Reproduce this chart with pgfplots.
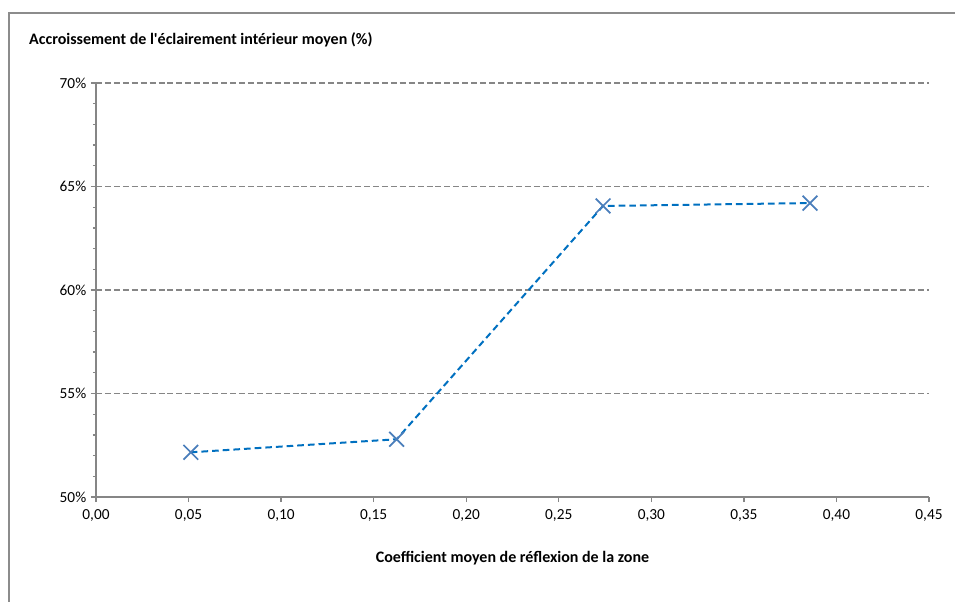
\documentclass[border=0pt]{standalone}
\usepackage{pgfplots}
\pgfplotsset{compat=1.18}
\usepackage{fontspec}
\setmainfont{Carlito}
\definecolor{axgray}{HTML}{868686}
\definecolor{framegray}{HTML}{8C8C8C}
\definecolor{lineblue}{HTML}{0070C0}
\definecolor{markblue}{HTML}{4A7EBB}

\begin{document}
\begin{tikzpicture}[x=0.75pt,y=0.75pt]
\useasboundingbox (0,0) rectangle (955,601);
% chart area border (cut at right and bottom)
\draw[framegray, line width=1.6pt] (9,-10) -- (9,588) -- (970,588);
\begin{axis}[
    at={(72pt,78pt)}, anchor=south west,
    scale only axis,
    width=624.75pt, height=310.5pt,
    xmin=0, xmax=0.45, ymin=50, ymax=70,
    xtick={0,0.05,...,0.451},
    ytick={50,55,...,70},
    minor y tick num=4,
    axis x line*=bottom, axis y line*=left,
    axis line style={axgray, line width=1pt, -},
    tick style={axgray, line width=1pt},
    tick align=outside,
    major tick length=3.8pt,
    minor tick length=2.4pt,
    ymajorgrids,
    major grid style={axgray, line width=0.9pt, dash pattern=on 4.5pt off 2.2pt},
    tick label style={font=\fontsize{11.5}{13}\selectfont, /pgf/number format/assume math mode=true},
    xticklabel style={yshift=-2pt},
    /pgf/number format/.cd, use comma, fixed, fixed zerofill, precision=2,
    /pgfplots/.cd,
    yticklabel={\pgfmathprintnumber[fixed, precision=0, fixed zerofill=false]{\tick}\%},
    ylabel={Accroissement de l\textquotesingle éclairement intérieur moyen (\%)},
    ylabel style={rotate=-90, at={(axis description cs:-0.0805,1.092)}, anchor=base west,
        inner sep=0pt, font=\fontsize{12}{14}\selectfont\bfseries},
    xlabel={Coefficient moyen de réflexion de la zone},
    xlabel style={at={(axis description cs:0.5,-0.157)}, anchor=base,
        inner sep=0pt, font=\fontsize{12}{14}\selectfont\bfseries},
    clip=false,
]
\addplot[lineblue, line width=1.5pt, dash pattern=on 5pt off 3pt,
    mark=x, mark size=7.8pt, mark options={solid, markblue, line width=1.3pt}]
    coordinates {(0.0512,52.16) (0.1624,52.79) (0.2739,64.06) (0.3857,64.20)};
\end{axis}
\end{tikzpicture}
\end{document}
